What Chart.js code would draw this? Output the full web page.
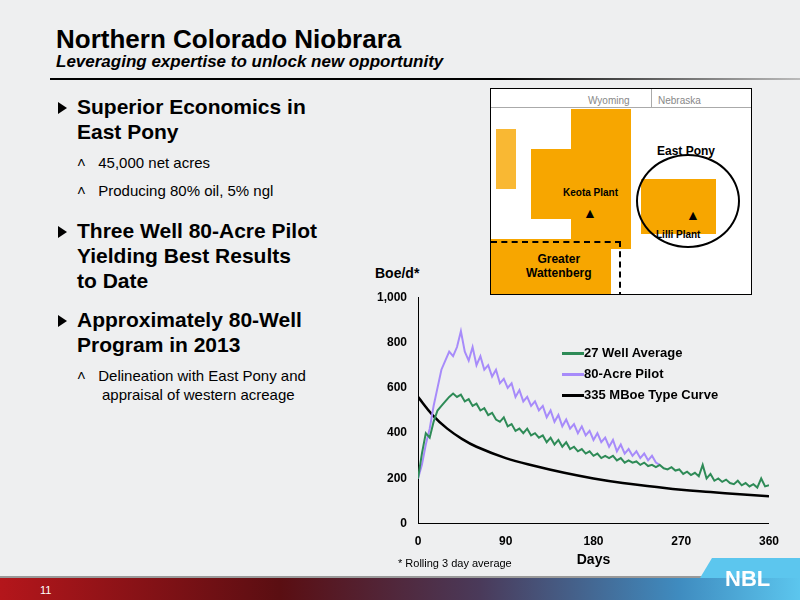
<!DOCTYPE html>
<html><head><meta charset="utf-8">
<script src="https://cdn.jsdelivr.net/npm/chart.js@4"></script>
<style>
body{margin:0;width:800px;height:600px;position:relative;font-family:"Liberation Sans",Arial,sans-serif;background:#eeeff0;overflow:hidden}
.t{position:absolute}
.b{font-weight:bold;font-size:21px;line-height:25px;color:#000}
.s{font-size:15px;color:#000;line-height:19px}
.tri{display:inline-block;width:0;height:0;border-top:6px solid transparent;border-bottom:6px solid transparent;border-left:9px solid #000;margin-right:10px}
.blob{position:absolute;background:#f7a600}
</style></head><body>
<div class="t" style="left:56px;top:24px;font-size:26px;font-weight:bold">Northern Colorado Niobrara</div>
<div class="t" style="left:56px;top:52px;font-size:17px;font-weight:bold;font-style:italic">Leveraging expertise to unlock new opportunity</div>
<div style="position:absolute;left:50px;top:78px;width:750px;height:2px;background:linear-gradient(90deg,#000,#000 60%,#bbb)"></div>
<div class="t b" style="left:58px;top:94px"><span class="tri"></span>Superior Economics in<br><span style="margin-left:19px">East Pony</span></div>
<div class="t s" style="left:77px;top:153px">&#x2C4;&nbsp;&nbsp;&nbsp;45,000 net acres</div>
<div class="t s" style="left:77px;top:181px">&#x2C4;&nbsp;&nbsp;&nbsp;Producing 80% oil, 5% ngl</div>
<div class="t b" style="left:58px;top:218px"><span class="tri"></span>Three Well 80-Acre Pilot<br><span style="margin-left:19px">Yielding Best Results</span><br><span style="margin-left:19px">to Date</span></div>
<div class="t b" style="left:58px;top:307px"><span class="tri"></span>Approximately 80-Well<br><span style="margin-left:19px">Program in 2013</span></div>
<div class="t s" style="left:77px;top:366px">&#x2C4;&nbsp;&nbsp;&nbsp;Delineation with East Pony and<br>&nbsp;&nbsp;&nbsp;&nbsp;&nbsp;&nbsp;appraisal of western acreage</div>

<div style="position:absolute;left:490px;top:88px;width:260px;height:205px;border:1px solid #000;overflow:hidden;background:#fff">
 <div class="blob" style="left:80px;top:20px;width:60px;height:140px"></div>
 <div class="blob" style="left:40px;top:60px;width:100px;height:70px"></div>
 <div class="blob" style="left:0;top:150px;width:120px;height:55px"></div>
 <div class="blob" style="left:150px;top:90px;width:75px;height:55px"></div>
 <div class="blob" style="left:5px;top:40px;width:20px;height:60px;opacity:.8"></div>
 <div style="position:absolute;left:145px;top:65px;width:100px;height:90px;border:2px solid #000;border-radius:50%"></div>
 <div style="position:absolute;left:0;top:152px;width:128px;height:55px;border-top:2px dashed #000;border-right:2px dashed #000"></div>
 <div style="position:absolute;left:0;top:18px;width:260px;height:1px;background:#aaa"></div>
 <div style="position:absolute;left:160px;top:0;width:1px;height:18px;background:#aaa"></div>
 <div class="t" style="left:97px;top:6px;font-size:10px;color:#888">Wyoming</div>
 <div class="t" style="left:167px;top:6px;font-size:10px;color:#888">Nebraska</div>
 <div class="t" style="left:166px;top:55px;font-size:12px;font-weight:bold">East Pony</div>
 <div class="t" style="left:72px;top:98px;font-size:10px;font-weight:bold">Keota Plant</div>
 <div class="t" style="left:92px;top:116px;font-size:14px">&#9650;</div>
 <div class="t" style="left:195px;top:118px;font-size:14px">&#9650;</div>
 <div class="t" style="left:165px;top:140px;font-size:10px;font-weight:bold">Lilli Plant</div>
 <div class="t" style="left:35px;top:163px;font-size:12px;font-weight:bold;text-align:center">Greater<br>Wattenberg</div>
</div>

<div class="t" style="left:375px;top:265px;font-size:14px;font-weight:bold">Boe/d*</div>
<div style="position:absolute;left:374px;top:287px;width:408px;height:282px"><canvas id="c"></canvas></div>
<div class="t" style="left:398px;top:557px;font-size:11px">* Rolling 3 day average</div>
<div class="t" style="left:562px;top:342px;font-size:13px;font-weight:bold;line-height:21px">
 <div><span style="display:inline-block;width:22px;height:3px;background:#2e8b57;vertical-align:middle"></span>27 Well Average</div>
 <div><span style="display:inline-block;width:22px;height:3px;background:#a78bfa;vertical-align:middle"></span>80-Acre Pilot</div>
 <div><span style="display:inline-block;width:22px;height:3px;background:#000;vertical-align:middle"></span>335 MBoe Type Curve</div>
</div>
<div style="position:absolute;left:0;top:576px;width:800px;height:2px;background:#999"></div>
<div style="position:absolute;left:0;top:578px;width:800px;height:22px;background:linear-gradient(90deg,#b4161b,#5a0e12 35%,#4a3a5a 60%,#3f8cc0 85%,#5cc6ee)"></div>
<div style="position:absolute;left:700px;top:558px;width:100px;height:20px;background:#5cc6ee;clip-path:polygon(12% 0,100% 0,100% 100%,0 100%)"></div>
<div class="t" style="left:40px;top:584px;font-size:11px;color:#fff">11</div>
<div class="t" style="left:725px;top:566px;font-size:22px;font-weight:bold;color:#fff">NBL</div>
<script>
const stepDays = 4;
const wellAverage = [200,310,400,380,450,500,520,540,560,575,560,570,540,550,520,530,500,510,480,490,460,450,470,430,440,410,420,400,420,390,400,380,390,360,380,350,370,340,360,330,340,320,330,310,320,300,310,290,300,290,300,280,290,270,280,270,275,260,270,255,260,250,260,245,240,250,235,240,220,230,215,225,210,260,200,220,190,200,185,195,180,175,190,170,180,165,175,160,200,165,170];
const pilot = [200,260,350,420,520,600,680,720,760,740,780,850,760,720,780,700,740,680,700,650,680,620,640,600,620,560,590,540,560,520,540,500,520,470,500,450,480,430,460,420,440,400,430,390,410,370,400,360,380,340,370,320,350,310,330,300,320,290,310,280,300,270,260];
const typeDays = [0,15,30,45,60,90,120,150,180,210,240,270,300,330,360];
const typeCurve = [560,480,420,375,340,290,255,225,200,180,165,150,140,130,122];
const xTicks = [0,90,180,270,360];

const toPts = arr => arr.map((v, i) => ({x: i * stepDays, y: v}));
new Chart(document.getElementById('c'), {
  type: 'line',
  data: {datasets: [
    {data: toPts(wellAverage), borderColor: '#2e8b57', borderWidth: 2},
    {data: toPts(pilot), borderColor: '#a78bfa', borderWidth: 2},
    {data: typeDays.map((d, i) => ({x: d, y: typeCurve[i]})), borderColor: '#000', borderWidth: 2.5, tension: 0.4}
  ]},
  options: {
    animation: false, responsive: true, maintainAspectRatio: false,
    layout: {padding: {right: 12}},
    elements: {point: {radius: 0}},
    plugins: {legend: {display: false}, tooltip: {enabled: false}},
    scales: {
      x: {type: 'linear', min: 0, max: 360, afterBuildTicks: ax => { ax.ticks = xTicks.map(v => ({value: v})); },
          grid: {display: false}, border: {color: '#000'},
          ticks: {color: '#000', font: {size: 12, weight: 'bold'}},
          title: {display: true, text: 'Days', color: '#000', font: {size: 14, weight: 'bold'}, padding: 0}},
      y: {min: 0, max: 1000, afterFit: ax => { ax.width = 44; },
          ticks: {stepSize: 200, color: '#000', font: {size: 12, weight: 'bold'}},
          grid: {display: false}, border: {color: '#000'}}
    }
  }
});
</script>
</body></html>
